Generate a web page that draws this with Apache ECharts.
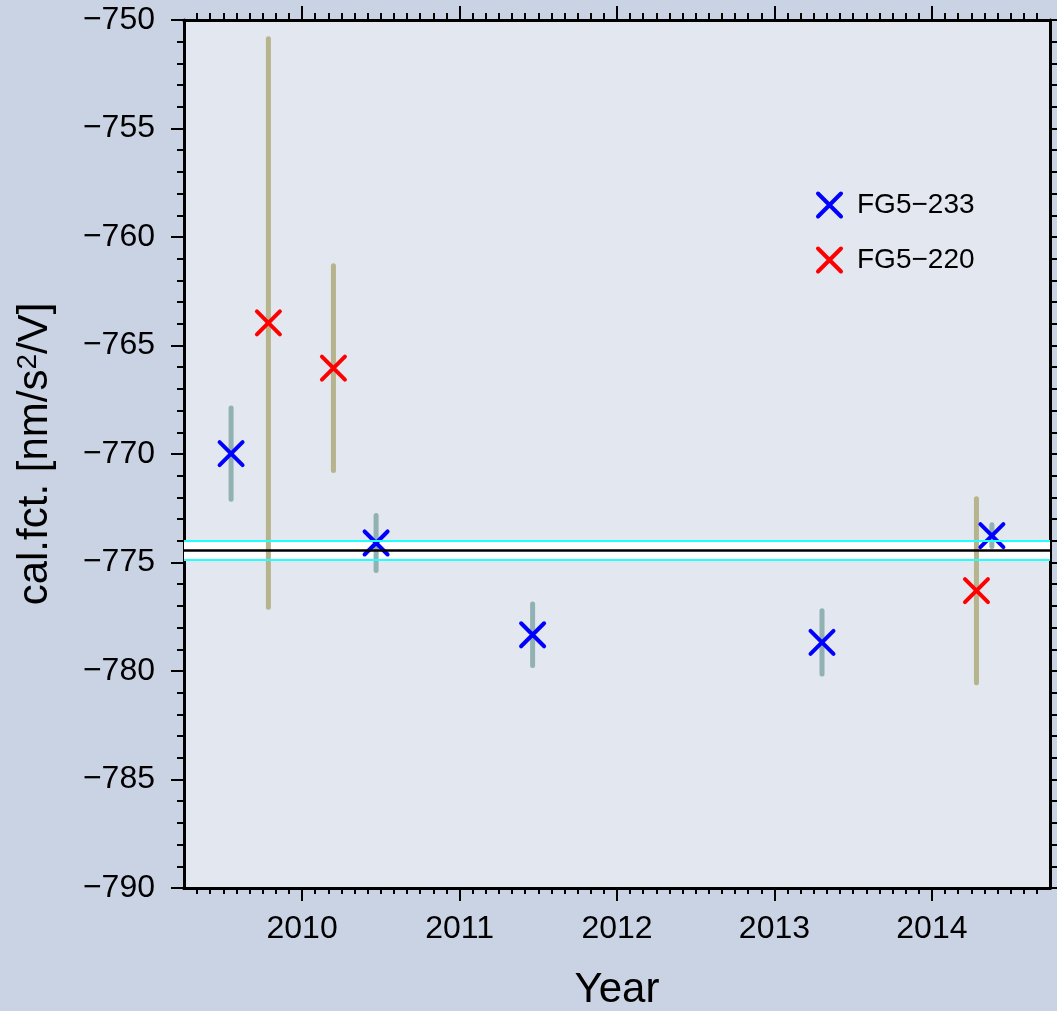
<!DOCTYPE html>
<html>
<head>
<meta charset="utf-8">
<title>cal.fct. by year</title>
<script src="https://cdn.jsdelivr.net/npm/echarts@6/dist/echarts.min.js"></script>
<style>
  html, body { margin: 0; padding: 0; background: #cad3e3; }
  #chart { width: 1057px; height: 1011px; }
</style>
</head>
<body>
<div id="chart"></div>
<script>
// FG5-233 calibrations: epoch (decimal year), factor, 1-sigma
const fg233Years  = [2009.549, 2010.470, 2011.464, 2013.302, 2014.381];
const fg233Values = [-769.98, -774.10, -778.33, -778.68, -773.76];
const fg233Errors = [2.1, 1.27, 1.42, 1.46, 0.5];

// FG5-220 calibrations
const fg220Years  = [2009.786, 2010.199, 2014.283];
const fg220Values = [-763.96, -766.04, -776.30];
const fg220Errors = [13.1, 4.72, 4.24];

// weighted mean and its uncertainty
const meanValue = -774.44;
const meanError = 0.43;

// axis ticks
const yearTicks = [2010, 2011, 2012, 2013, 2014];
const monthTicks = [];
for (let m = 2009 * 12 + 4; m <= 2014 * 12 + 8; m++) monthTicks.push(m / 12);

const FONT = 'Liberation Sans, Arial, Helvetica, sans-serif';
const X_MIN = 2009.25, X_MAX = 2014.75;

function errData(years, values, errs) {
  return years.map((y, i) => [y, values[i] - errs[i], values[i] + errs[i]]);
}
function pointData(years, values) {
  return years.map((y, i) => [y, values[i]]);
}
function errBarRenderer(color) {
  return function (params, api) {
    const p1 = api.coord([api.value(0), api.value(1)]);
    const p2 = api.coord([api.value(0), api.value(2)]);
    return {
      type: 'line',
      shape: { x1: p1[0], y1: p1[1], x2: p2[0], y2: p2[1] },
      style: { stroke: color, lineWidth: 5, lineCap: 'round' }
    };
  };
}

const frameLine = { show: true, lineStyle: { color: '#000', width: 3 } };
function xAxisDef(position, values, len, withLabels) {
  return {
    type: 'value', position: position, min: X_MIN, max: X_MAX,
    axisLine: frameLine,
    splitLine: { show: false },
    axisTick: { show: true, customValues: values, length: len, lineStyle: { color: '#000', width: 2 } },
    axisLabel: withLabels ? {
      show: true, customValues: values, margin: 25, color: '#000',
      fontFamily: FONT, fontSize: 32, formatter: v => String(Math.round(v))
    } : { show: false }
  };
}
function yAxisDef(position, withLabels) {
  return {
    type: 'value', position: position, min: -790, max: -750, interval: 5,
    axisLine: frameLine,
    splitLine: { show: false },
    axisTick: { show: true, length: 13, lineStyle: { color: '#000', width: 2 } },
    minorTick: { show: true, splitNumber: 5, length: 7, lineStyle: { color: '#000', width: 2 } },
    axisLabel: withLabels ? {
      show: true, margin: 29, color: '#000', fontFamily: FONT, fontSize: 32,
      formatter: v => String(v).replace('-', '\u2212')
    } : { show: false }
  };
}

const xAxes = [
  xAxisDef('bottom', yearTicks, 13, true),
  xAxisDef('bottom', monthTicks, 6, false),
  xAxisDef('top', yearTicks, 14, false),
  xAxisDef('top', monthTicks, 7, false)
];
xAxes[0].name = 'Year';
xAxes[0].nameLocation = 'middle';
xAxes[0].nameGap = 81;
xAxes[0].nameTextStyle = { fontFamily: FONT, fontSize: 42, color: '#000' };

const yAxes = [yAxisDef('left', true), yAxisDef('right', false)];
yAxes[0].name = 'cal.fct. [nm/s{sup|2}/V]';
yAxes[0].nameLocation = 'middle';
yAxes[0].nameGap = 128;
yAxes[0].nameTextStyle = {
  fontFamily: FONT, fontSize: 42, color: '#000',
  rich: { sup: { fontFamily: FONT, fontSize: 28, color: '#000', verticalAlign: 'top', lineHeight: 28 } }
};

const crossSymbol = 'path://M0 0L10 10M10 0L0 10';

const option = {
  backgroundColor: '#cad3e3',
  animation: false,
  grid: {
    left: 184, top: 20, width: 866, height: 868,
    show: true, backgroundColor: '#e3e7ef', borderWidth: 0,
    containLabel: false, outerBoundsMode: 'none'
  },
  xAxis: xAxes,
  yAxis: yAxes,
  legend: {
    orient: 'vertical', left: 811, top: 186,
    itemWidth: 23, itemHeight: 23, itemGap: 27,
    data: ['FG5\u2212233', 'FG5\u2212220'],
    itemStyle: { borderWidth: 4, opacity: 1 },
    textStyle: { fontFamily: FONT, fontSize: 28, color: '#000', padding: [0, 0, 0, 11] }
  },
  series: [
    {
      name: 'mean', type: 'line', data: [], silent: true,
      markArea: {
        silent: true,
        itemStyle: { color: '#ffffff' },
        data: [[{ yAxis: meanValue - meanError }, { yAxis: meanValue + meanError }]]
      },
      markLine: {
        silent: true, symbol: 'none', label: { show: false },
        data: [
          { yAxis: meanValue - meanError, lineStyle: { color: '#22ffff', width: 2, type: 'solid' } },
          { yAxis: meanValue + meanError, lineStyle: { color: '#22ffff', width: 2, type: 'solid' } },
          { yAxis: meanValue, lineStyle: { color: '#000000', width: 2.5, type: 'solid' } }
        ]
      }
    },
    {
      name: 'FG5-220 sigma', type: 'custom', silent: true,
      renderItem: errBarRenderer('#b5b48d'),
      encode: { x: 0, y: [1, 2] },
      data: errData(fg220Years, fg220Values, fg220Errors)
    },
    {
      name: 'FG5-233 sigma', type: 'custom', silent: true,
      renderItem: errBarRenderer('#91b1b2'),
      encode: { x: 0, y: [1, 2] },
      data: errData(fg233Years, fg233Values, fg233Errors)
    },
    {
      name: 'FG5\u2212220', type: 'scatter', symbol: crossSymbol, symbolSize: 23,
      itemStyle: { color: 'transparent', borderColor: '#ff0000', borderWidth: 4, borderCap: 'round', opacity: 1 },
      data: pointData(fg220Years, fg220Values)
    },
    {
      name: 'FG5\u2212233', type: 'scatter', symbol: crossSymbol, symbolSize: 23,
      itemStyle: { color: 'transparent', borderColor: '#0000ff', borderWidth: 4, borderCap: 'round', opacity: 1 },
      data: pointData(fg233Years, fg233Values)
    }
  ]
};

const chart = echarts.init(document.getElementById('chart'), null, { renderer: 'canvas' });
chart.setOption(option);
</script>
</body>
</html>
